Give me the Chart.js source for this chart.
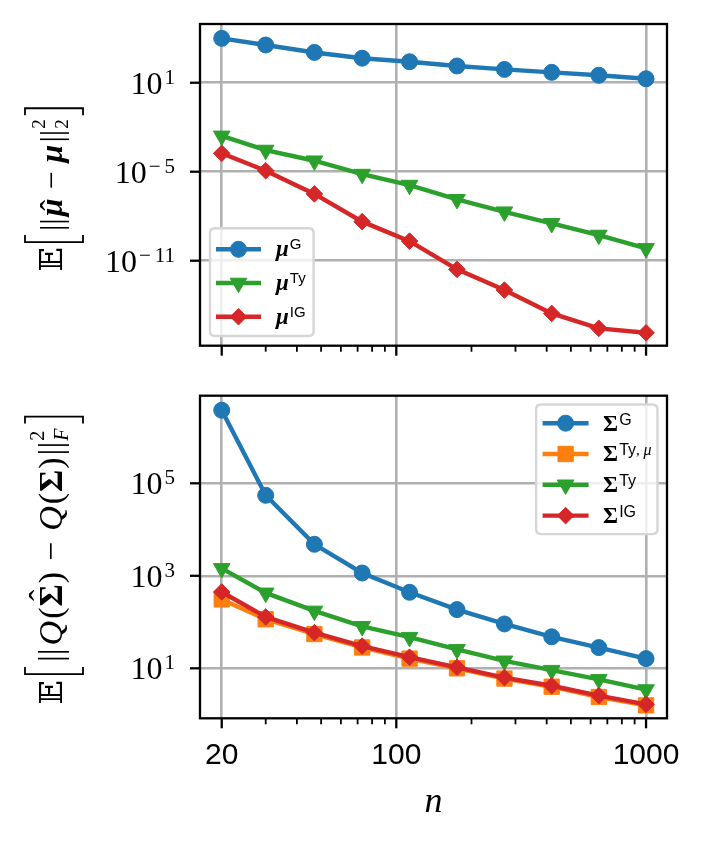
<!DOCTYPE html>
<html><head><meta charset="utf-8">
<script src="https://cdn.jsdelivr.net/npm/chart.js@4.4.0/dist/chart.umd.min.js"></script>
<style>
html,body{margin:0;padding:0;background:#fff;}
#wrap{position:relative;width:707px;height:842px;overflow:hidden;}
#c1box{position:absolute;left:0;top:0;width:707px;height:370px;}
#c2box{position:absolute;left:0;top:370px;width:707px;height:472px;}
</style></head><body>
<div id="wrap"><div id="c1box"><canvas id="c1"></canvas></div><div id="c2box"><canvas id="c2"></canvas></div></div>
<script>
// ---------------- data ----------------
const nValues = [20, 30, 47, 73, 113, 175, 271, 419, 647, 1000];

// top panel: E[ ||mu_hat - mu||_2^2 ]
const muG  = [9.8e3, 3.5e3, 1.1e3, 4.5e2, 2.6e2, 1.35e2, 79, 50, 32, 18.6];
const muTy = [2.6e-3, 2.9e-4, 5.5e-5, 6.9e-6, 1.26e-6, 1.38e-7, 2.0e-8, 3.3e-9, 5.4e-10, 6.8e-11];
const muIG = [1.74e-4, 1.17e-5, 3.2e-7, 4.3e-9, 2.1e-10, 2.6e-12, 1.05e-13, 2.8e-15, 2.75e-16, 1.38e-16];

// bottom panel: E[ ||Q(Sigma_hat) - Q(Sigma)||_F^2 ]
const sigG    = [3.8e6, 5.5e4, 4.8e3, 1.15e3, 440, 186, 91, 48, 28, 16.2];
const sigTyMu = [309, 115, 55, 28.2, 16.2, 10.0, 6.0, 4.0, 2.4, 1.58];
const sigTy   = [1445, 427, 174, 81, 47, 25.7, 14.5, 9.1, 5.75, 3.47];
const sigIG   = [447, 129, 59, 30.2, 17.4, 10.5, 6.3, 4.2, 2.57, 1.66];

// ticks
const xTickValues = [20, 100, 1000];
const xTickLabels = ['20', '100', '1000'];
const xMinorTicks = [30, 40, 50, 60, 70, 80, 90, 200, 300, 400, 500, 600, 700, 800, 900];
const yTopTicks = [1e1, 1e-5, 1e-11];
const yTopTickLabels = [['10', '1'], ['10', '\u22125'], ['10', '\u221211']];
const yBotTicks = [1e5, 1e3, 1e1];
const yBotTickLabels = [['10', '5'], ['10', '3'], ['10', '1']];

// legend labels (base symbol + superscript)
const topLegendSups = ['G', 'Ty', 'IG'];
const botLegendSups = ['G', 'Ty,\u03bc', 'Ty', 'IG'];

// ---------------- styles ----------------
const COL = { blue: '#1f77b4', orange: '#ff7f0e', green: '#2ca02c', red: '#d62728' };
const MK = {
  circle:  { ps: 'circle',   rot: 0,   r: 8.0 },
  square:  { ps: 'rect',     rot: 0,   r: 10.8 },
  tri:     { ps: 'triangle', rot: 180, r: 9.6 },
  diamond: { ps: 'rectRot',  rot: 0,   r: 8.3 }
};
const LW = 4.4;
const GRID_W = 2.6;
const SERIF = '"Liberation Serif", "DejaVu Serif", serif';
const SANS = '"Liberation Sans", Arial, sans-serif';

function mkDs(label, values, color, mk, order) {
  return {
    label, order,
    data: nValues.map((n, i) => ({ x: n, y: values[i] })),
    borderColor: color, backgroundColor: color, borderWidth: LW,
    pointStyle: mk.ps, pointRotation: mk.rot, pointRadius: mk.r,
    pointBorderWidth: 1, pointBorderColor: color, pointBackgroundColor: color,
    pointHoverRadius: mk.r, tension: 0, clip: 12, mk
  };
}

function drawMarker(ctx, mk, x, y, color) {
  const r = mk.r;
  ctx.fillStyle = color; ctx.strokeStyle = color; ctx.lineWidth = 1;
  ctx.beginPath();
  if (mk.ps === 'circle') ctx.arc(x, y, r, 0, Math.PI * 2);
  else if (mk.ps === 'rect') { const s = Math.SQRT1_2 * r; ctx.rect(x - s, y - s, 2 * s, 2 * s); }
  else if (mk.ps === 'triangle') { const h = r * Math.sin(Math.PI / 3); ctx.moveTo(x, y + r); ctx.lineTo(x - h, y - r / 2); ctx.lineTo(x + h, y - r / 2); ctx.closePath(); }
  else if (mk.ps === 'rectRot') { ctx.moveTo(x - r, y); ctx.lineTo(x, y - r); ctx.lineTo(x + r, y); ctx.lineTo(x, y + r); ctx.closePath(); }
  ctx.fill(); ctx.stroke();
}

// math-like text runs along a rotated baseline
function runWidth(ctx, r) {
  if (r.bracket) return r.w;
  if (r.sup !== undefined) {
    ctx.font = r.supFont; const a = ctx.measureText(r.sup).width;
    ctx.font = r.subFont; const b = ctx.measureText(r.sub).width;
    return Math.max(a, b);
  }
  ctx.font = r.font; return ctx.measureText(r.t).width;
}
function drawRun(ctx, r, x, w) {
  if (r.bracket) {
    ctx.lineWidth = 1.8; ctx.beginPath();
    if (r.bracket === '[') { ctx.moveTo(x + w, r.y0); ctx.lineTo(x, r.y0); ctx.lineTo(x, r.y1); ctx.lineTo(x + w, r.y1); }
    else { ctx.moveTo(x, r.y0); ctx.lineTo(x + w, r.y0); ctx.lineTo(x + w, r.y1); ctx.lineTo(x, r.y1); }
    ctx.stroke(); return;
  }
  if (r.sup !== undefined) {
    ctx.font = r.supFont; ctx.fillText(r.sup, x, r.supDy);
    ctx.font = r.subFont; ctx.fillText(r.sub, x, r.subDy);
    return;
  }
  ctx.font = r.font; ctx.fillText(r.t, x, r.dy || 0);
  if (r.hat) {
    ctx.font = r.hatFont; const hw = ctx.measureText('\u02c6').width;
    ctx.fillText('\u02c6', x + w / 2 - hw / 2 + (r.hatShift || 0), r.hatDy || 0);
  }
}
function drawMath(ctx, runs, cx, cy) {
  ctx.save();
  ctx.translate(cx, cy); ctx.rotate(-Math.PI / 2);
  ctx.fillStyle = '#000'; ctx.strokeStyle = '#000';
  ctx.textBaseline = 'alphabetic'; ctx.textAlign = 'left';
  const ws = runs.map(r => runWidth(ctx, r));
  let total = 0; runs.forEach((r, i) => { total += ws[i] + (i < runs.length - 1 ? (r.gap || 0) : 0); });
  let x = -total / 2;
  runs.forEach((r, i) => { drawRun(ctx, r, x, ws[i]); x += ws[i] + (r.gap || 0); });
  ctx.restore();
}

const S = 32;
const fSerif = `${S}px ${SERIF}`;
const fBI = `bold italic ${S}px ${SERIF}`;
const fBB = `${S}px "DejaVu Serif", "DejaVu Sans", serif`;
const fScript = `19px ${SERIF}`;
const S2 = 34;
const gSerif = `${S2}px ${SERIF}`;
const gIt = `italic ${S2}px ${SERIF}`;
const gBold = `bold ${S2}px ${SERIF}`;
const gScript = `20px ${SERIF}`;
const gScriptIt = `italic 20px ${SERIF}`;

const topTitleRuns = [
  { t: '\ud835\udd3c', font: fBB, gap: 5 },
  { bracket: '[', w: 7, y0: -37, y1: 21, gap: 4 },
  { t: '||', font: fSerif, gap: 2 },
  { t: '\u03bc', font: fBI, hat: true, hatFont: fSerif, hatShift: 2, gap: 9 },
  { t: '\u2212', font: fSerif, gap: 9 },
  { t: '\u03bc', font: fBI, gap: 2 },
  { t: '||', font: fSerif, gap: 1 },
  { sup: '2', sub: '2', supFont: fScript, subFont: fScript, supDy: -17, subDy: 6, gap: 4 },
  { bracket: ']', w: 7, y0: -37, y1: 21 }
];
const botTitleRuns = [
  { t: '\ud835\udd3c', font: fBB, gap: 6 },
  { bracket: '[', w: 7, y0: -37, y1: 21, gap: 5 },
  { t: '||', font: gSerif, gap: 3 },
  { t: 'Q', font: gIt, gap: 2 },
  { t: '(', font: gSerif, gap: 1 },
  { t: '\u03a3', font: gBold, hat: true, hatFont: gSerif, hatDy: -9, gap: 1 },
  { t: ')', font: gSerif, gap: 11 },
  { t: '\u2212', font: gSerif, gap: 11 },
  { t: 'Q', font: gIt, gap: 2 },
  { t: '(', font: gSerif, gap: 1 },
  { t: '\u03a3', font: gBold, gap: 1 },
  { t: ')', font: gSerif, gap: 2 },
  { t: '||', font: gSerif, gap: 1 },
  { sup: '2', sub: 'F', supFont: gScript, subFont: gScriptIt, supDy: -18, subDy: 6, gap: 5 },
  { bracket: ']', w: 7, y0: -37, y1: 21 }
];

// legend drawing
function drawLegend(chart, cfg) {
  const ctx = chart.ctx, a = chart.chartArea;
  const dss = chart.data.datasets;
  ctx.save();
  const widths = dss.map((d, i) => {
    ctx.font = cfg.baseFont; let w = ctx.measureText(cfg.base).width + 1;
    ctx.font = cfg.supFont; w += ctx.measureText(cfg.sups[i]).width;
    return w;
  });
  const boxW = cfg.textOff + Math.max(...widths) + cfg.padR;
  const boxH = cfg.firstRow + cfg.rowGap * (dss.length - 1) + cfg.padB;
  let bx, by;
  if (cfg.loc === 'lower left') { bx = a.left + 10; by = a.bottom - 9.7 - boxH; }
  else { bx = a.right - 9.5 - boxW; by = a.top + 8.8; }
  const rr = 5;
  ctx.beginPath();
  ctx.moveTo(bx + rr, by); ctx.lineTo(bx + boxW - rr, by); ctx.quadraticCurveTo(bx + boxW, by, bx + boxW, by + rr);
  ctx.lineTo(bx + boxW, by + boxH - rr); ctx.quadraticCurveTo(bx + boxW, by + boxH, bx + boxW - rr, by + boxH);
  ctx.lineTo(bx + rr, by + boxH); ctx.quadraticCurveTo(bx, by + boxH, bx, by + boxH - rr);
  ctx.lineTo(bx, by + rr); ctx.quadraticCurveTo(bx, by, bx + rr, by); ctx.closePath();
  ctx.fillStyle = 'rgba(255,255,255,0.8)'; ctx.fill();
  ctx.strokeStyle = '#d6d6d6'; ctx.lineWidth = 2.4; ctx.stroke();
  dss.forEach((d, i) => {
    const y = by + cfg.firstRow + cfg.rowGap * i;
    const x0 = bx + cfg.lineOff, x1 = x0 + cfg.lineLen;
    ctx.strokeStyle = d.borderColor; ctx.lineWidth = LW; ctx.lineCap = 'butt';
    ctx.beginPath(); ctx.moveTo(x0, y); ctx.lineTo(x1, y); ctx.stroke();
    drawMarker(ctx, d.mk, (x0 + x1) / 2, y, d.borderColor);
    ctx.fillStyle = '#000'; ctx.textBaseline = 'alphabetic'; ctx.textAlign = 'left';
    let tx = bx + cfg.textOff;
    ctx.font = cfg.baseFont; ctx.fillText(cfg.base, tx, y + cfg.baseDy);
    tx += ctx.measureText(cfg.base).width + 1;
    const sup = cfg.sups[i];
    if (sup.indexOf(',') >= 0) {
      const parts = sup.split(',');
      ctx.font = cfg.supFont; ctx.fillText(parts[0], tx, y + cfg.supDy); tx += ctx.measureText(parts[0]).width;
      ctx.font = `15px ${SERIF}`; ctx.fillText(', ', tx, y + cfg.supDy); tx += ctx.measureText(', ').width;
      ctx.font = `italic 16px ${SERIF}`; ctx.fillText(parts[1], tx, y + cfg.supDy);
    } else {
      ctx.font = cfg.supFont; ctx.fillText(sup, tx, y + cfg.supDy);
    }
  });
  ctx.restore();
}

const decor = {
  id: 'decor',
  afterDatasetsDraw(chart, args, o) {
    const ctx = chart.ctx, a = chart.chartArea;
    const xs = chart.scales.x, ys = chart.scales.y;
    ctx.save();
    ctx.strokeStyle = '#000'; ctx.lineCap = 'butt';
    ctx.lineWidth = 2.3;
    xTickValues.forEach(v => { const p = xs.getPixelForValue(v); ctx.beginPath(); ctx.moveTo(p, a.bottom); ctx.lineTo(p, a.bottom + 10); ctx.stroke(); });
    o.yTicks.forEach(v => { const p = ys.getPixelForValue(v); ctx.beginPath(); ctx.moveTo(a.left, p); ctx.lineTo(a.left - 10, p); ctx.stroke(); });
    ctx.lineWidth = 1.8;
    xMinorTicks.forEach(v => { const p = xs.getPixelForValue(v); ctx.beginPath(); ctx.moveTo(p, a.bottom); ctx.lineTo(p, a.bottom + 6); ctx.stroke(); });
    ctx.lineWidth = 2.3;
    ctx.strokeRect(a.left, a.top, a.right - a.left, a.bottom - a.top);
    ctx.fillStyle = '#000'; ctx.textBaseline = 'alphabetic'; ctx.textAlign = 'left';
    const right = a.left - 25;
    o.yTicks.forEach((v, i) => {
      const p = ys.getPixelForValue(v);
      const [base, exp] = o.yLabels[i];
      ctx.font = `21px ${SERIF}`;
      let ew = 0; let minusW = 0;
      if (exp[0] === '\u2212') { minusW = ctx.measureText('\u2212').width + 4; ew = minusW + ctx.measureText(exp.slice(1)).width; }
      else ew = ctx.measureText(exp).width;
      const xe = right - ew;
      if (minusW) { ctx.fillText('\u2212', xe, p + 1); ctx.fillText(exp.slice(1), xe + minusW, p + 1); }
      else ctx.fillText(exp, xe, p + 1);
      ctx.font = `${S}px ${SERIF}`;
      const bw = ctx.measureText(base).width;
      ctx.fillText(base, xe - 2 - bw, p + 11);
    });
    ctx.restore();
    drawMath(ctx, o.titleRuns, o.titleX, (a.top + a.bottom) / 2 + o.titleDy);
    drawLegend(chart, o.legend);
  }
};

function makeChart(id, datasets, yMin, yMax, yTicks, yLabels, showX, padTop, xH, titleRuns, titleDy, legend) {
  return new Chart(document.getElementById(id), {
    type: 'line',
    data: { datasets },
    options: {
      responsive: true, maintainAspectRatio: false, animation: false,
      events: [],
      layout: { padding: { left: 0, right: 40, top: padTop, bottom: 0 } },
      plugins: {
        legend: { display: false }, tooltip: { enabled: false },
        decor: { yTicks, yLabels, titleRuns, titleX: 62, titleDy, legend }
      },
      scales: {
        x: {
          type: 'logarithmic', position: 'bottom', min: 16.37, max: 1213,
          afterBuildTicks: s => { s.ticks = xTickValues.map(v => ({ value: v })); },
          afterFit: s => { s.height = xH; },
          grid: { color: '#b0b0b0', lineWidth: GRID_W, drawTicks: false },
          border: { display: false },
          ticks: {
            display: showX, autoSkip: false, maxRotation: 0, minRotation: 0, padding: 19.7,
            color: '#000', font: { family: SANS, size: 30 },
            callback: v => { const i = xTickValues.indexOf(v); return i >= 0 ? xTickLabels[i] : ''; }
          },
          title: {
            display: showX, text: 'n', color: '#000',
            font: { family: SERIF, size: 36, style: 'italic' },
            padding: { top: 0, bottom: 18 }
          }
        },
        y: {
          type: 'logarithmic', position: 'left', min: yMin, max: yMax,
          afterBuildTicks: s => { s.ticks = yTicks.map(v => ({ value: v })); },
          afterFit: s => { s.width = 200; },
          grid: { color: '#b0b0b0', lineWidth: GRID_W, drawTicks: false },
          border: { display: false },
          ticks: { display: false }
        }
      }
    },
    plugins: [decor]
  });
}

const topDatasets = [
  mkDs('\u03bc^G', muG, COL.blue, MK.circle, 3),
  mkDs('\u03bc^Ty', muTy, COL.green, MK.tri, 2),
  mkDs('\u03bc^IG', muIG, COL.red, MK.diamond, 1)
];
const botDatasets = [
  mkDs('\u03a3^G', sigG, COL.blue, MK.circle, 4),
  mkDs('\u03a3^Ty,\u03bc', sigTyMu, COL.orange, MK.square, 3),
  mkDs('\u03a3^Ty', sigTy, COL.green, MK.tri, 2),
  mkDs('\u03a3^IG', sigIG, COL.red, MK.diamond, 1)
];

makeChart('c1', topDatasets, Math.pow(10, -16.73), Math.pow(10, 4.96), yTopTicks, yTopTickLabels, false, 24, 370 - 345.7,
  topTitleRuns, 5,
  { loc: 'lower left', sups: topLegendSups, base: '\u03bc', baseFont: `bold italic 23px ${SERIF}`, supFont: `15px ${SANS}`,
    baseDy: 7, supDy: 0, firstRow: 21, rowGap: 33.7, padB: 19.3, lineOff: 6, lineLen: 45, textOff: 66, padR: 8 });
makeChart('c2', botDatasets, Math.pow(10, -0.081), Math.pow(10, 6.894), yBotTicks, yBotTickLabels, true, 25.7, 472 - 348.3,
  botTitleRuns, 3.5,
  { loc: 'upper right', sups: botLegendSups, base: '\u03a3', baseFont: `bold 23px ${SERIF}`, supFont: `16px ${SANS}`,
    baseDy: 7.3, supDy: 1.3, firstRow: 18.7, rowGap: 30.8, padB: 18.5, lineOff: 6.5, lineLen: 46, textOff: 67, padR: 9 });
</script>
</body></html>
